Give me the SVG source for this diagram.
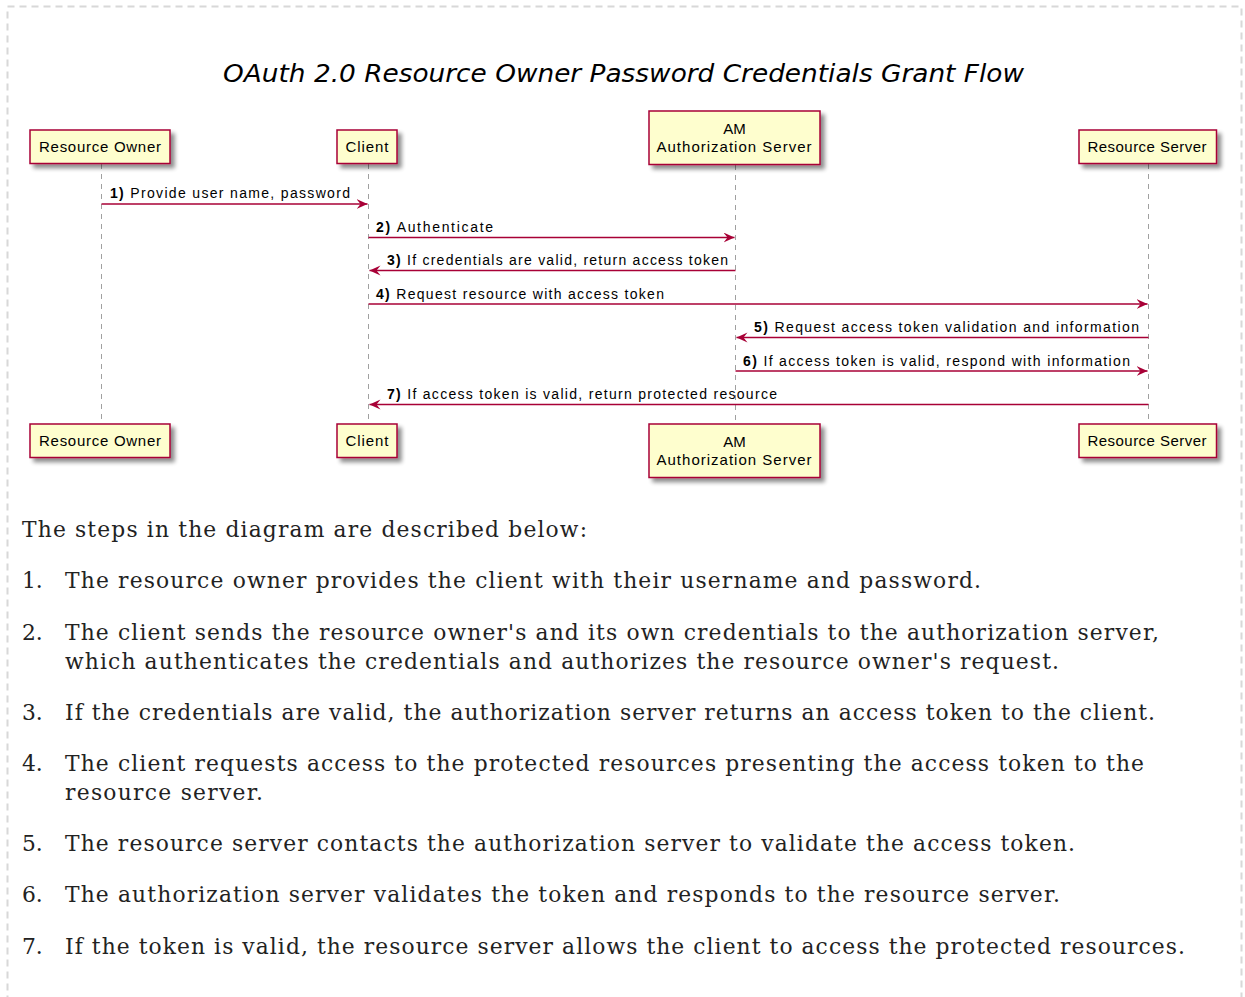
<svg xmlns="http://www.w3.org/2000/svg" width="1245" height="997" viewBox="0 0 1245 997">
<style>
.box{fill:#FEFECE;stroke:#A80036;stroke-width:1.5;filter:url(#sh)}
.pt{font-family:"Liberation Sans",Arial,sans-serif;font-size:15px;fill:#000;text-anchor:middle}
.life{stroke:#A0A0A0;stroke-width:1;stroke-dasharray:5,5;fill:none}
.msg{stroke:#A80036;stroke-width:1.5;fill:none;marker-end:url(#ah)}
.ml{font-family:"Liberation Sans",Arial,sans-serif;font-size:14px;fill:#000}
.ml tspan.n{font-weight:bold}
.title{font-family:"DejaVu Sans",sans-serif;font-style:italic;font-size:25px;fill:#000;text-anchor:middle}
.body{font-family:"DejaVu Serif",serif;font-size:21.8px;fill:#222}
</style>
<defs>
<filter id="sh" x="-20%" y="-30%" width="140%" height="170%">
<feGaussianBlur in="SourceAlpha" stdDeviation="2"/>
<feOffset dx="4" dy="4" result="b"/>
<feComponentTransfer><feFuncA type="linear" slope="0.45"/></feComponentTransfer>
<feMerge><feMergeNode/><feMergeNode in="SourceGraphic"/></feMerge>
</filter>
<marker id="ah" markerUnits="userSpaceOnUse" markerWidth="12" markerHeight="12" refX="11" refY="5" orient="auto">
<path d="M0,0 L11,5 L0,10 L4,5 Z" fill="#A80036"/>
</marker>
</defs>
<rect x="7.5" y="6.5" width="1234" height="1010" fill="none" stroke="#D8D8D8" stroke-width="2" stroke-dasharray="7,5"/>
<text class="title" x="623.5" y="82" textLength="801" lengthAdjust="spacingAndGlyphs">OAuth 2.0 Resource Owner Password Credentials Grant Flow</text>

<g id="lifelines">
<line class="life" x1="101.5" y1="164" x2="101.5" y2="423"/>
<line class="life" x1="368.5" y1="164" x2="368.5" y2="423"/>
<line class="life" x1="735.5" y1="165" x2="735.5" y2="423"/>
<line class="life" x1="1148.5" y1="164" x2="1148.5" y2="423"/>
</g>

<g id="resource-owner">
<rect class="box" x="30" y="130" width="140" height="33.5"/>
<text class="pt" x="100" y="152" textLength="122" lengthAdjust="spacing">Resource Owner</text>
<rect class="box" x="30" y="424" width="140" height="33.5"/>
<text class="pt" x="100" y="446" textLength="122" lengthAdjust="spacing">Resource Owner</text>
</g>
<g id="client">
<rect class="box" x="337" y="130" width="60" height="33.5"/>
<text class="pt" x="367" y="152" textLength="43" lengthAdjust="spacing">Client</text>
<rect class="box" x="337" y="424" width="60" height="33.5"/>
<text class="pt" x="367" y="446" textLength="43" lengthAdjust="spacing">Client</text>
</g>
<g id="am-authorization-server">
<rect class="box" x="649" y="111" width="171" height="53.5"/>
<text class="pt" x="734.5" y="133.5">AM</text>
<text class="pt" x="734" y="152" textLength="155" lengthAdjust="spacing">Authorization Server</text>
<rect class="box" x="649" y="424" width="171" height="53.5"/>
<text class="pt" x="734.5" y="446.5">AM</text>
<text class="pt" x="734" y="465" textLength="155" lengthAdjust="spacing">Authorization Server</text>
</g>
<g id="resource-server">
<rect class="box" x="1079" y="130" width="137.5" height="33.5"/>
<text class="pt" x="1147" y="152" textLength="119" lengthAdjust="spacing">Resource Server</text>
<rect class="box" x="1079" y="424" width="137.5" height="33.5"/>
<text class="pt" x="1147" y="446" textLength="119" lengthAdjust="spacing">Resource Server</text>
</g>

<g id="connectors">
<line class="msg" x1="101.5" y1="204" x2="367.5" y2="204"/>
<text class="ml" x="110" y="198" textLength="240" lengthAdjust="spacing"><tspan class="n">1)</tspan> Provide user name, password</text>
<line class="msg" x1="368.5" y1="237.5" x2="734.5" y2="237.5"/>
<text class="ml" x="376" y="231.5" textLength="117" lengthAdjust="spacing"><tspan class="n">2)</tspan> Authenticate</text>
<line class="msg" x1="735.5" y1="270.5" x2="369.5" y2="270.5"/>
<text class="ml" x="387" y="265" textLength="341" lengthAdjust="spacing"><tspan class="n">3)</tspan> If credentials are valid, return access token</text>
<line class="msg" x1="368.5" y1="304" x2="1147.5" y2="304"/>
<text class="ml" x="376" y="298.5" textLength="288" lengthAdjust="spacing"><tspan class="n">4)</tspan> Request resource with access token</text>
<line class="msg" x1="1148.5" y1="337.5" x2="736.5" y2="337.5"/>
<text class="ml" x="754" y="331.5" textLength="385" lengthAdjust="spacing"><tspan class="n">5)</tspan> Request access token validation and information</text>
<line class="msg" x1="735.5" y1="371" x2="1147.5" y2="371"/>
<text class="ml" x="743" y="365.5" textLength="387" lengthAdjust="spacing"><tspan class="n">6)</tspan> If access token is valid, respond with information</text>
<line class="msg" x1="1148.5" y1="404.5" x2="369.5" y2="404.5"/>
<text class="ml" x="387" y="398.5" textLength="390" lengthAdjust="spacing"><tspan class="n">7)</tspan> If access token is valid, return protected resource</text>
</g>

<g id="description">
<text class="body" x="22" y="537" textLength="565" lengthAdjust="spacing">The steps in the diagram are described below:</text>
<text class="body" x="22" y="588">1.</text>
<text class="body" x="65" y="588" textLength="916" lengthAdjust="spacing">The resource owner provides the client with their username and password.</text>
<text class="body" x="22" y="640">2.</text>
<text class="body" x="65" y="640" textLength="1094" lengthAdjust="spacing">The client sends the resource owner's and its own credentials to the authorization server,</text>
<text class="body" x="65" y="668.5" textLength="994" lengthAdjust="spacing">which authenticates the credentials and authorizes the resource owner's request.</text>
<text class="body" x="22" y="720">3.</text>
<text class="body" x="65" y="720" textLength="1090" lengthAdjust="spacing">If the credentials are valid, the authorization server returns an access token to the client.</text>
<text class="body" x="22" y="771">4.</text>
<text class="body" x="65" y="771" textLength="1079" lengthAdjust="spacing">The client requests access to the protected resources presenting the access token to the</text>
<text class="body" x="65" y="799.5" textLength="198" lengthAdjust="spacing">resource server.</text>
<text class="body" x="22" y="851">5.</text>
<text class="body" x="65" y="851" textLength="1010" lengthAdjust="spacing">The resource server contacts the authorization server to validate the access token.</text>
<text class="body" x="22" y="902">6.</text>
<text class="body" x="65" y="902" textLength="995" lengthAdjust="spacing">The authorization server validates the token and responds to the resource server.</text>
<text class="body" x="22" y="954">7.</text>
<text class="body" x="65" y="954" textLength="1120" lengthAdjust="spacing">If the token is valid, the resource server allows the client to access the protected resources.</text>
</g>
</svg>
